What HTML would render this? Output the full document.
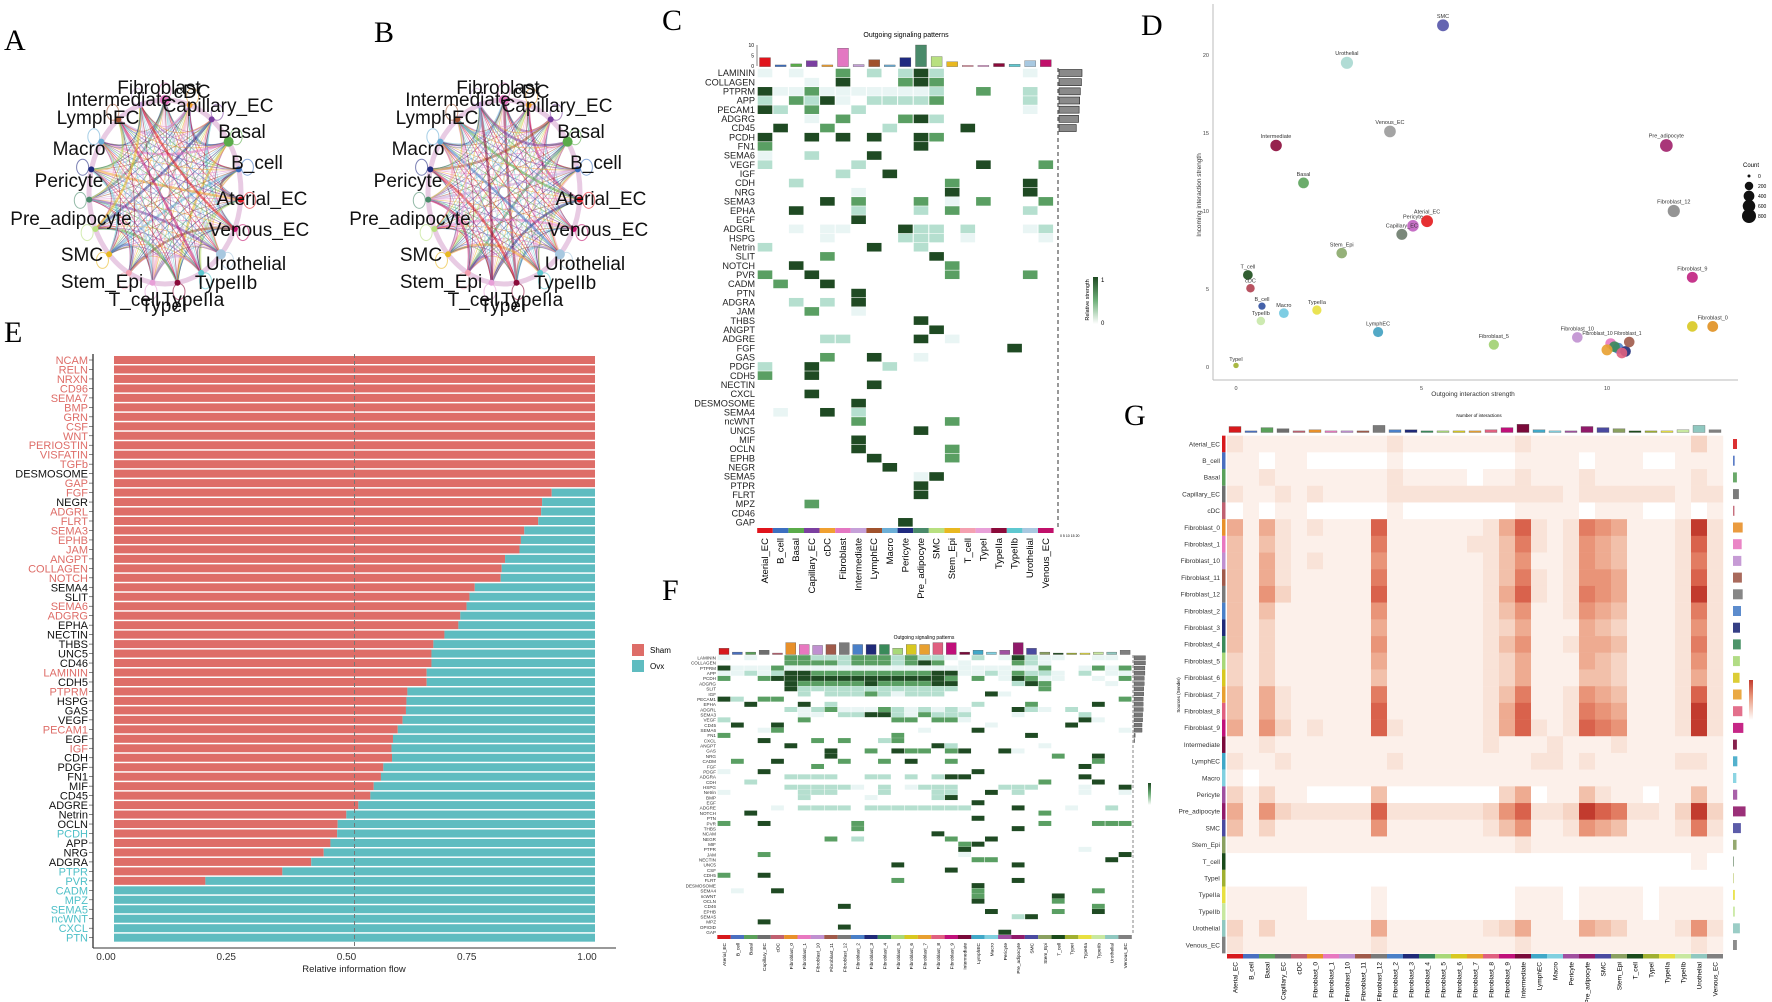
<!DOCTYPE html>
<html><head><meta charset="utf-8"><style>
html,body{margin:0;padding:0;background:#fff;}
svg{display:block;font-family:"Liberation Sans",sans-serif;}
</style></head><body>
<svg id="fig" xmlns="http://www.w3.org/2000/svg" width="1772" height="1002" viewBox="0 0 1772 1002"></svg>
<script>
// ---------- DATA ----------
// Panel E
const eCats=["NCAM","RELN","NRXN","CD96","SEMA7","BMP","GRN","CSF","WNT","PERIOSTIN","VISFATIN","TGFb","DESMOSOME","GAP","FGF","NEGR","ADGRL","FLRT","SEMA3","EPHB","JAM","ANGPT","COLLAGEN","NOTCH","SEMA4","SLIT","SEMA6","ADGRG","EPHA","NECTIN","THBS","UNC5","CD46","LAMININ","CDH5","PTPRM","HSPG","GAS","VEGF","PECAM1","EGF","IGF","CDH","PDGF","FN1","MIF","CD45","ADGRE","Netrin","OCLN","PCDH","APP","NRG","ADGRA","PTPR","PVR","CADM","MPZ","SEMA5","ncWNT","CXCL","PTN"];
const eLabelColor="rrrrrrrrrrrrkrrkrrrrrrrrkkrrkkkkkrkrkkkrkrkkkkkkkktkkktttttttt";
const eSham=[1,1,1,1,1,1,1,1,1,1,1,1,1,1,0.91,0.89,0.888,0.882,0.853,0.846,0.843,0.813,0.806,0.804,0.75,0.739,0.733,0.72,0.716,0.687,0.664,0.66,0.66,0.65,0.65,0.61,0.608,0.607,0.60,0.59,0.58,0.577,0.578,0.56,0.555,0.54,0.533,0.508,0.483,0.465,0.464,0.45,0.436,0.41,0.35,0.19,0,0,0,0,0,0];
const eTicks=[0,0.25,0.5,0.75,1];
const eTickLabels=["0.00","0.25","0.50","0.75","1.00"];
// Panel C
const cCols=["Aterial_EC","B_cell","Basal","Capillary_EC","cDC","Fibroblast","Intermediate","LymphEC","Macro","Pericyte","Pre_adipocyte","SMC","Stem_Epi","T_cell","TypeI","TypeIIa","TypeIIb","Urothelial","Venous_EC"];
const cColColors=["#e0141c","#3c6fc0","#5aab4a","#7b3fa0","#f0a030","#e377c2","#c5a0d8","#a0522d","#6baed6","#1f2a80","#4a8a6a","#b8e080","#e8b820","#f4a0b0","#e8a0d8","#8b0a3a","#5ec8d0","#a8c8e0","#c0106a"];
const cTop=[4,0.5,1,2.5,0.5,8.5,0.7,3,0.5,4,10,4.5,2,0.3,0.3,1.2,0.8,2.5,3];
const cRows=["LAMININ","COLLAGEN","PTPRM","APP","PECAM1","ADGRG","CD45","PCDH","FN1","SEMA6","VEGF","IGF","CDH","NRG","SEMA3","EPHA","EGF","ADGRL","HSPG","Netrin","SLIT","NOTCH","PVR","CADM","PTN","ADGRA","JAM","THBS","ANGPT","ADGRE","FGF","GAS","PDGF","CDH5","NECTIN","CXCL","DESMOSOME","SEMA4","ncWNT","UNC5","MIF","OCLN","EPHB","NEGR","SEMA5","PTPR","FLRT","MPZ","CD46","GAP"];
const cVals=["1010030202420000010","0001040003430000000","4113111111120030020","2032410222230000020","4203002000000000010","0001030003420000000","0400300020000400000","4004040400430000000","3000000000400000000","1002000400000000000","2000002000000040003","0000020040000000000","0020000000003000040","0000001000004000040","0000403000301030003","0040002000203000020","0000004000000000000","0010110004220200012","0000100002220100001","2000000400200000000","0000300000040000000","0040000000003000000","3004000000003000030","0300400000000000000","0000004000000000000","0020204000000000000","0003001000000000000","0000000000400000000","0000000000040000000","0000220000401000000","0000000000000000400","0000300400100000000","2004000020000000000","3004000000000000000","0000000400000000000","0004000000000000000","0000004000000000000","0100402000000000000","0000003000003000000","0000000000400000000","0000004000000000000","0000004000003000000","0000000400003000000","0000000040000000000","0000000000140000000","0000000000400000000","0000000000400000000","0003000000000000000","0000000000000000000","0000000004000000000"];
const cRight=[20,19.5,18.5,18,17.5,17,15];
// Panel D
const dNames=["SMC","Urothelial","Venous_EC","Intermediate","Basal","Aterial_EC","Pericyte","Capillary_EC","Stem_Epi","T_cell","cDC","B_cell","Macro","TypeIIa","TypeIIb","LymphEC","Fibroblast_5","TypeI","Pre_adipocyte","Fibroblast_12","Fibroblast_9","Fibroblast_6","Fibroblast_0","Fibroblast_10","Fibroblast_1","Fibroblast_2","Fibroblast_3","Fibroblast_4","Fibroblast_7","Fibroblast_8","Fibroblast_11"];
const dOut=[5.58,2.99,4.15,1.08,1.82,5.15,4.77,4.47,2.85,0.32,0.39,0.70,1.29,2.18,0.67,3.83,6.95,0.0,11.6,11.8,12.3,12.3,12.85,9.2,10.1,10.3,10.5,10.2,10.0,10.4,10.6];
const dIn=[21.9,19.5,15.1,14.2,11.8,9.35,9.05,8.5,7.3,5.9,5.05,3.9,3.45,3.65,2.95,2.24,1.43,0.1,14.2,10.0,5.75,2.6,2.6,1.9,1.5,1.2,1.0,1.3,1.1,0.9,1.6];
const dCount=[520,560,500,480,400,520,480,420,380,300,200,120,300,260,200,340,340,40,620,560,420,380,400,380,400,420,380,400,420,400,380];
const dColors=["#5454a8","#a8d8d0","#9a9a9a","#8b0a3a","#5ba35b","#e31a1c","#c060c0","#6b7b6b","#8aa86a","#1b4d1b","#b04050","#3050a0","#70c8e0","#e8e040","#c8e8a8","#40a0c0","#a0d070","#a0b030","#a0206a","#888888","#c02080","#d8c820","#e09020","#c090d0","#e878c0","#4a80c8","#1f2a78","#3a8a5a","#e8a030","#e06080","#a05a4a"];
const dXTicks=[0,5,10];
const dYTicks=[0,5,10,15,20];
const dLegendCounts=[0,200,400,600,800];
// Panels F & G shared categories
const gCats=["Aterial_EC","B_cell","Basal","Capillary_EC","cDC","Fibroblast_0","Fibroblast_1","Fibroblast_10","Fibroblast_11","Fibroblast_12","Fibroblast_2","Fibroblast_3","Fibroblast_4","Fibroblast_5","Fibroblast_6","Fibroblast_7","Fibroblast_8","Fibroblast_9","Intermediate","LymphEC","Macro","Pericyte","Pre_adipocyte","SMC","Stem_Epi","T_cell","TypeI","TypeIIa","TypeIIb","Urothelial","Venous_EC"];
const gCatColors=["#d7191c","#4a6fc0","#5aa05a","#6e6e6e","#c06070","#e8902a","#e878c0","#c090d0","#a05a4a","#7a7a7a","#4a80c8","#1f2a78","#3a8a5a","#a8d878","#d8c820","#e8a030","#e06080","#c0107a","#7a0a3a","#40a8c8","#80d0e0","#a050a0","#901a6a","#4a4aa0","#8aa060","#1a4a1a","#a0b030","#e8e040","#c8e8a0","#90c8c0","#808080"];
// Panel F
const fRows=["LAMININ","COLLAGEN","PTPRM","APP","PCDH","ADGRG","SLIT","IGF","PECAM1","EPHA","ADGRL","SEMA3","VEGF","CD45","SEMA6","FN1","CXCL","ANGPT","GAS","NRG","CADM","FGF","PDGF","ADGRA","CDH","HSPG","Netrin","BMP","EGF","ADGRE","NOTCH","PTN","PVR","THBS","NCAM","NEGR","MIF","PTPR","JAM","NECTIN","UNC5","CSF","CDH5","FLRT","DESMOSOME","SEMA4","ncWNT","OCLN","CD46","EPHB","SEMA5","MPZ","OPIOID","GAP"];
const fVals=["1010033222333232210201421100110","0000033332333234301000321000000","4111311111111111111111113001313","1121244333333333441121322102011","3003444444444444430301431100103","0000043333343333440000243000010","0000042222222222220000003000000","0000002022232122200041000000000","4203300000000000000000000000003","0040004020000000000200030000400","0000021231113212121000421020000","0000001102244213222000100002000","2000003000000330331000000004100","0400400000000000000010000040000","0001300000000001000400000000001","3000000000000300000000040000000","0004000303002300000000000000000","0000040000000000420000001000000","0000000040030433034004100000000","0000000040000000000000000300400","0300400003003040030000000000300","0000000300000000000000000004000","1004000000000000000400000000000","0000022220022020244000000004000","0020000000000000000000003000400","0000022222102012220002220001004","1000002220002000220040200001001","0000002000010000240000000000000","0000000000000000000400000000000","0000102222022222222000400010020","0040000000000000000000003000000","0000000000000000000400000000000","3004000000300000000000003000333","0000000000300000000000400000000","0000000000000000400000000000000","0000000030200000030040000000000","0000000000000000003400000000000","0000000000000000004000000001000","0003000000000000001000000000004","0000000000000000000330000000040","0000000000000400000000400000000","0000000000000000040000000000000","3004000000000000000000000000000","0000000000000300000000400000000","0000000000000000000400000000000","0100400000000000000300000000300","0000000000000000000300000400000","0000000000000000000400000300000","0000000004000000000000000000300","0000000000000000000040000300400","0000000000000000000000240000000","0004000000000000000000000000000","0000000004000000000000000000000","0000000000000000000004000000000"];
const fTop=[3,1,1,2,0.5,6,5,4.5,5,6,5,5,5,3,5,5,6,6,1,2,1,2,6,3,1,0.5,0.5,0.5,1,1,2];
const fRight=[10,10,9.5,9.5,9,9,8.5,8.5,8,8,8,7.5,7.5,7,7,1,0.5];
// Panel G
const gVals=["2111111111211111112111111111131","1101100000100000001111011100111","1121111111211110112111211111121","2112121111222222222221222222122","0101100000100000001111011100101","5152121118111111258212765111292","4142111117111112247212654111282","4152121116111111246112654111272","4152111117111111247212665111282","4163111118111111258212765111292","4141111116111111246112654111272","4131111115111111235111543111262","4131111116111111246112554111272","3131111115111111235111543111262","3131111114111111235111443111252","4152111117111111247112654111282","4152111118111111258112765111292","5163121118211111258212876111292","1121111111111111211121112111111","2112111111211111111221211111221","1011111111111111111111111111111","3131100004000000035011421101141","5163222228222222368223987221393","4131111116111111246112654111272","1111111111111111112111111111111","0000000000000000000000000000010","0000000000000000000000000000000","1111100001000000001110111101111","1111100001000000001110111101111","3131111115111111235111543111262","2111111112111111112111111111121"];
const gTop=[5,1,4,3,1,2,1,1,1,6,2,2,1,1,1,1,2,4,7,2,1,1,5,4,3,1,1,1,2,6,2];
// Chord diagrams
const chordNodes=["Fibroblast","cDC","Capillary_EC","Basal","B_cell","Aterial_EC","Venous_EC","Urothelial","TypeIIb","TypeIIa","TypeI","T_cell","Stem_Epi","SMC","Pre_adipocyte","Pericyte","Macro","LymphEC","Intermediate"];
const chordColors=["#e377c2","#f0a030","#7b3fa0","#5aab4a","#3c6fc0","#e0141c","#c0106a","#a8c8e0","#5ec8d0","#8b0a3a","#e8a0d8","#f4a0b0","#e8b820","#b8e080","#4a8a6a","#1f2a80","#6baed6","#a0522d","#c5a0d8"];
const chordLabels=[["Fibroblast",159,94],["cDC",192,98],["Intermediate",119,106],["Capillary_EC",218,112],["LymphEC",98,124],["Basal",242,138],["Macro",79,155],["B_cell",257,169],["Pericyte",69,187],["Aterial_EC",262,205],["Pre_adipocyte",71,225],["Venous_EC",259,236],["SMC",82,261],["Urothelial",246,270],["Stem_Epi",102,288],["TypeIIb",226,289],["T_cell",134,306],["TypeIIa",193,306],["TypeI",164,312]];

// ---------- HELPERS ----------
const NS="http://www.w3.org/2000/svg";
const root=document.getElementById("fig");
function mk(tag,attrs,parent){const e=document.createElementNS(NS,tag);for(const k in attrs)e.setAttribute(k,attrs[k]);(parent||root).appendChild(e);return e;}
function txt(s,x,y,size,attrs,parent){const a=Object.assign({x:x,y:y,"font-size":size},attrs||{});const e=mk("text",a,parent);e.textContent=s;return e;}
const greenScale=[null,"#e9f5f4","#b5dfcf","#5a9f63","#1f4a23"];
const redStops=["#ffffff","#fcf0ea","#f9e3d8","#f6d4c4","#f2c0aa","#eeab91","#e99478","#e27c62","#d9624c","#c23b2e"];
function panelLetter(s,x,y){const e=txt(s,x,y,30,{"font-family":"Liberation Serif, serif"});return e;}

// ---------- PANEL LETTERS ----------
[["A",4,50],["B",374,42],["C",662,30],["D",1141,35],["E",4,342],["F",662,600],["G",1124,425]].forEach(p=>{
  const e=panelLetter(p[0],p[1],p[2]);
  
  
});

// ---------- PANELS A & B (chord diagrams) ----------
[[0,"a"],[339,"b"]].forEach(([dx,id])=>{
  const g=mk("g",{transform:"translate("+dx+",0)"});
  
  
  const cx=165,cy=192,rx=76,ry=92,n=chordNodes.length;
  const pts=chordNodes.map((_,i)=>{const a=-Math.PI/2+i*2*Math.PI/n;return [cx+rx*Math.cos(a),cy+ry*Math.sin(a)];});
  const ring=mk("ellipse",{cx:cx,cy:cy,rx:rx,ry:ry,fill:"none",stroke:"#d8a8d0","stroke-width":5,opacity:0.6},g);
  
  
  for(let i=0;i<n;i++){for(let j=i+1;j<n;j++){
    const w=((i*5+j*3+(id==="b"?1:0))%7===0)?2.5:0.8;
    const l=mk("path",{d:"M"+pts[i][0]+","+pts[i][1]+" Q"+(cx+(pts[i][0]+pts[j][0]-2*cx)*0.25)+","+(cy+(pts[i][1]+pts[j][1]-2*cy)*0.25)+" "+pts[j][0]+","+pts[j][1],fill:"none",stroke:chordColors[(i+j)%n],"stroke-width":w,opacity:0.55},g);
    
    
  }}
  pts.forEach((p,i)=>{
    const c=mk("circle",{cx:p[0],cy:p[1],r:(i===0||i===3||i===7)?5:3,fill:chordColors[i]},g);
    
    
    const lp=mk("ellipse",{cx:cx+(rx+9)*Math.cos(-Math.PI/2+i*2*Math.PI/n),cy:cy+(ry+9)*Math.sin(-Math.PI/2+i*2*Math.PI/n),rx:6,ry:8,fill:"none",stroke:chordColors[i],"stroke-width":1,opacity:0.6},g);
    
    
  });
  chordLabels.forEach(l=>{
    const t=txt(l[0],l[1],l[2],19,{"text-anchor":"middle",fill:"#111"},g);
    
    
  });
});

// ---------- PANEL C ----------
(function(){
  const g=mk("g",{});
  
  
  const x0=765,cw=15.6,y0=73,rh=9.17;
  const X=j=>x0+j*cw, Y=i=>y0+i*rh;
  const tY=v=>66-v*2.1;
  const t=txt("Outgoing signaling patterns",906,37,7,{"text-anchor":"middle"},g);
  
  
  const ax=mk("line",{x1:757,y1:45,x2:757,y2:66,stroke:"#333","stroke-width":0.6},g);
  
  
  [0,5,10].forEach(v=>{const tt=txt(String(v),754,tY(v)+2,5,{"text-anchor":"end"},g);
    
    });
  cTop.forEach((v,j)=>{
    const b=mk("rect",{x:X(j)-5.5,y:tY(v),width:11,height:66-tY(v)+0.6,fill:cColColors[j],stroke:"#444","stroke-width":0.3},g);
    
    
  });
  cRows.forEach((r,i)=>{
    const lt=txt(r,755,Y(i)+3.2,9.2,{"text-anchor":"end",fill:"#222"},g);
    
    
    for(let j=0;j<cCols.length;j++){
      const v=+(cVals[i][j]||0);
      if(!v)continue;
      const c=mk("rect",{x:X(j)-7.3,y:Y(i)-4.3,width:14.6,height:8.6,fill:greenScale[v]},g);
      
      
    }
  });
  cCols.forEach((c,j)=>{
    const s=mk("rect",{x:X(j)-7.8,y:528,width:15.6,height:5,fill:cColColors[j]},g);
    
    
    const lt=txt(c,0,0,9.5,{"text-anchor":"end",transform:"translate("+(X(j)+3)+",538) rotate(-90)"},g);
    
    
  });
  const dl=mk("line",{x1:1058,y1:68,x2:1058,y2:530,stroke:"#555","stroke-width":1.2,"stroke-dasharray":"4,3"},g);
  
  
  cRight.forEach((v,i)=>{
    const b=mk("rect",{x:1059,y:Y(i)-3.5,width:v*1.15,height:7,fill:"#8a8a8a",stroke:"#222","stroke-width":0.6},g);
    
    
  });
  const sax=txt("0 5 10 15 20",1060,537,3.5,{},g);
  
  
  const defs=mk("defs",{},g);
  const lg=mk("linearGradient",{id:"gcb",x1:0,y1:1,x2:0,y2:0},defs);
  mk("stop",{offset:0,"stop-color":"#ffffff"},lg);mk("stop",{offset:0.5,"stop-color":"#6fb07a"},lg);mk("stop",{offset:1,"stop-color":"#1f4a23"},lg);
  const cb=mk("rect",{x:1093,y:277,width:5,height:47,fill:"url(#gcb)"},g);
  
  
  const c1=txt("1",1101,282,6,{},g);
  const c0=txt("0",1101,325,6,{},g);
  const ct=txt("Relative strength",0,0,5.5,{"text-anchor":"middle",transform:"translate(1089,300) rotate(-90)"},g);
  
  
})();

// ---------- PANEL D ----------
(function(){
  const g=mk("g",{});
  
  
  const X=v=>1236+v*37.1, Y=v=>367-v*15.6;
  const ya=mk("line",{x1:1213,y1:4,x2:1213,y2:380,stroke:"#bbb","stroke-width":1},g);
  
  
  const xa=mk("line",{x1:1213,y1:380,x2:1738,y2:380,stroke:"#bbb","stroke-width":1},g);
  
  
  dXTicks.forEach(v=>{const t=txt(String(v),X(v),390,5.5,{"text-anchor":"middle",fill:"#444"},g);
    
    });
  dYTicks.forEach(v=>{const t=txt(String(v),1209,Y(v)+2,5.5,{"text-anchor":"end",fill:"#444"},g);
    
    });
  const xt=txt("Outgoing interaction strength",1473,396,6.5,{"text-anchor":"middle",fill:"#333"},g);
  
  
  const yt=txt("Incoming interaction strength",0,0,6.5,{"text-anchor":"middle",fill:"#333",transform:"translate(1201,195) rotate(-90)"},g);
  
  
  const R=c=>1.5+Math.sqrt(c/800)*5.5;
  dNames.forEach((n,i)=>{
    const p=mk("circle",{cx:X(dOut[i]),cy:Y(dIn[i]),r:R(dCount[i]),fill:dColors[i],opacity:0.9},g);
    
    
    const showLabel=!/Fibroblast_(1|2|3|4|7|8|11|6)$/.test(n);
    if(showLabel){
      const l=txt(n,X(dOut[i]),Y(dIn[i])-R(dCount[i])-1.5,5.5,{"text-anchor":"middle",fill:"#333"},g);
      
      
    }
  });
  const cl=txt("Fibroblast_10  Fibroblast_1",1612,335,5,{"text-anchor":"middle",fill:"#333"},g);
  
  
  const lt=txt("Count",1743,167,6,{},g);
  
  
  dLegendCounts.forEach((c,k)=>{
    const y=176+k*10;
    const cc=mk("circle",{cx:1749,cy:y,r:R(c),fill:"#111"},g);
    
    
    const t=txt(String(c),1758,y+2,5,{},g);
    
    
  });
})();

// ---------- PANEL E ----------
(function(){
  const g=mk("g",{});
  
  
  const X=v=>114+v*481, Y=i=>360+i*9.47;
  eCats.forEach((c,i)=>{
    const s=eSham[i];
    const bs=mk("rect",{x:X(0),y:Y(i)-4,width:X(s)-X(0),height:8,fill:"#de6d68"},g);
    
    
    const bo=mk("rect",{x:X(s),y:Y(i)-4,width:X(1)-X(s),height:8,fill:"#5fbcc0"},g);
    
    
    const col={r:"#de6d68",k:"#111",t:"#4fc0c8"}[eLabelColor[i]];
    const l=txt(c,88,Y(i)+4,11,{"text-anchor":"end",fill:col},g);
    
    
    const tk=mk("line",{x1:89,y1:Y(i),x2:93,y2:Y(i),stroke:"#333","stroke-width":0.6},g);
    
    
  });
  const ya=mk("line",{x1:93,y1:354,x2:93,y2:948,stroke:"#333","stroke-width":1.3},g);
  
  
  const xa=mk("line",{x1:93,y1:948,x2:616,y2:948,stroke:"#333","stroke-width":1},g);
  
  
  const dl=mk("line",{x1:X(0.5),y1:354,x2:X(0.5),y2:948,stroke:"#777","stroke-width":1,"stroke-dasharray":"4,3"},g);
  
  
  eTicks.forEach((v,k)=>{
    const t=txt(eTickLabels[k],X(v)-8,960,10,{"text-anchor":"middle",fill:"#333"},g);
    
    
  });
  const xt=txt("Relative information flow",354,972,9.5,{"text-anchor":"middle",fill:"#222"},g);
  
  
  [["Sham","#de6d68",644],["Ovx","#5fbcc0",660]].forEach(l=>{
    const r=mk("rect",{x:632,y:l[2],width:12,height:12,fill:l[1]},g);
    
    
    const t=txt(l[0],650,l[2]+9,8,{},g);
    
    
  });
})();

// ---------- PANEL F ----------
(function(){
  const g=mk("g",{});
  
  
  const x0=724,cw=13.37,y0=657.7,rh=5.18;
  const X=j=>x0+j*cw, Y=i=>y0+i*rh, tY=v=>654-v*1.9;
  const t=txt("Outgoing signaling patterns",924,639,5,{"text-anchor":"middle"},g);
  
  
  fTop.forEach((v,j)=>{
    const b=mk("rect",{x:X(j)-5,y:tY(v),width:10,height:654-tY(v)+0.5,fill:gCatColors[j],stroke:"#444","stroke-width":0.3},g);
    
    
  });
  fRows.forEach((r,i)=>{
    const lt=txt(r,716,Y(i)+1.8,4.6,{"text-anchor":"end",fill:"#333"},g);
    
    
    for(let j=0;j<gCats.length;j++){
      const v=+(fVals[i][j]||0);
      if(!v)continue;
      const c=mk("rect",{x:X(j)-6.4,y:Y(i)-2.5,width:12.8,height:5,fill:greenScale[v]},g);
      
      
    }
  });
  gCats.forEach((c,j)=>{
    const s=mk("rect",{x:X(j)-6.7,y:935,width:13.4,height:4,fill:gCatColors[j]},g);
    
    
    const lt=txt(c,0,0,4.8,{"text-anchor":"end",transform:"translate("+(X(j)+2)+",943) rotate(-90)"},g);
    
    
  });
  const dl=mk("line",{x1:1133,y1:655,x2:1133,y2:935,stroke:"#666","stroke-width":0.8,"stroke-dasharray":"3,2"},g);
  
  
  fRight.forEach((v,i)=>{
    const b=mk("rect",{x:1134,y:Y(i)-2,width:v*1.15,height:4,fill:"#777",stroke:"#333","stroke-width":0.3},g);
    
    
  });
  const cb=mk("rect",{x:1148,y:783,width:3,height:22,fill:"url(#gcb)"},g);
  
  
})();

// ---------- PANEL G ----------
(function(){
  const g=mk("g",{});
  
  
  const x0=1235,cw=16,y0=444,rh=16.7;
  const X=j=>x0+j*cw, Y=i=>y0+i*rh, tY=v=>432-v*1.1;
  const t=txt("Number of interactions",1479,417,4.5,{"text-anchor":"middle"},g);
  
  
  gTop.forEach((v,j)=>{
    const b=mk("rect",{x:X(j)-6,y:tY(v),width:12,height:432-tY(v)+0.5,fill:gCatColors[j],stroke:"#555","stroke-width":0.3},g);
    
    
  });
  gCats.forEach((r,i)=>{
    const lt=txt(r,1220,Y(i)+2.3,6.5,{"text-anchor":"end",fill:"#333"},g);
    
    
    const ls=mk("rect",{x:1222,y:Y(i)-rh/2,width:3.5,height:rh,fill:gCatColors[i]},g);
    
    
    let sum=0;
    for(let j=0;j<gCats.length;j++){
      const v=+(gVals[i][j]||0);sum+=v;
      const c=mk("rect",{x:X(j)-cw/2,y:Y(i)-rh/2,width:cw+0.2,height:rh+0.2,fill:redStops[v]},g);
      
      
    }
    const rb=mk("rect",{x:1733,y:Y(i)-5,width:Math.max(0.5,sum/90*10),height:10,fill:gCatColors[i],opacity:0.9},g);
    
    
  });
  gCats.forEach((c,j)=>{
    const s=mk("rect",{x:X(j)-cw/2,y:954,width:cw,height:4.5,fill:gCatColors[j]},g);
    
    
    const lt=txt(c,0,0,6.5,{"text-anchor":"end",transform:"translate("+(X(j)+2.5)+",962) rotate(-90)"},g);
    
    
  });
  const yt=txt("Sources (Sender)",0,0,4.5,{"text-anchor":"middle",transform:"translate(1180,695) rotate(-90)"},g);
  
  
  const defs=mk("defs",{},g);
  const lg=mk("linearGradient",{id:"rcb",x1:0,y1:1,x2:0,y2:0},defs);
  mk("stop",{offset:0,"stop-color":"#ffffff"},lg);mk("stop",{offset:0.6,"stop-color":"#e89478"},lg);mk("stop",{offset:1,"stop-color":"#c23b2e"},lg);
  const cb=mk("rect",{x:1749,y:680,width:4,height:40,fill:"url(#rcb)"},g);
  
  
})();
</script>
</body></html>
